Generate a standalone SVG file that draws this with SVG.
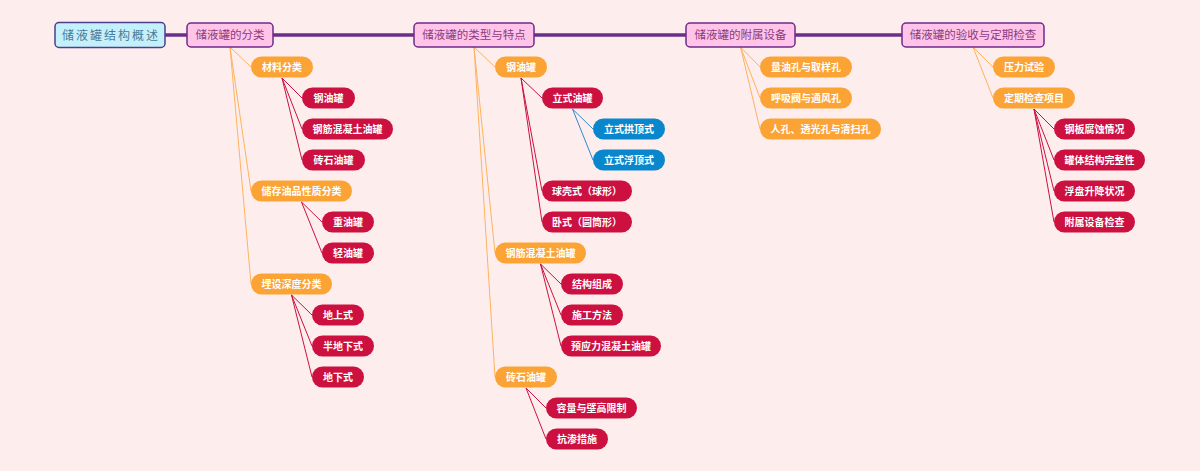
<svg xmlns="http://www.w3.org/2000/svg" width="1200" height="471" viewBox="0 0 1200 471">
<style>
.bg{fill:#fdeeed}
.root rect{fill:#c4f0fc;stroke:#4b3f8c;stroke-width:1.5}
.root text{fill:#4a7a96;font-size:12px;letter-spacing:2px}
.l1 rect{fill:#ffc4e8;stroke:#6e2a8a;stroke-width:1.5}
.l1 text{fill:#8c3a7c;font-size:11.5px}
.o rect{fill:#fba335}
.r rect{fill:#cc1040}
.b rect{fill:#0a86cc}
.o text,.r text,.b text{fill:#ffffff;font-size:10px;font-weight:bold}
text{font-family:"Noto Sans CJK SC","Noto Sans",sans-serif;text-anchor:middle}
.main{stroke:#6c2c8a;stroke-width:3.5;fill:none}
.co{stroke:#ffb25e;stroke-width:1;fill:none}
.cr{stroke:#cc1040;stroke-width:1;fill:none}
.cb{stroke:#2a8ad0;stroke-width:1;fill:none}
</style>
<rect class="bg" x="0" y="0" width="1200" height="471"/>
<g id="connectors">
<line class="main" x1="165" y1="35" x2="902" y2="35"/>
<path class="co" d="M230,47L251,67M230,47L251,191M230,47L251,284"/>
<path class="cr" d="M282,78L302,98M282,78L302,129M282,78L302,160"/>
<path class="cr" d="M301.5,202L322,222M301.5,202L322,253"/>
<path class="cr" d="M291.5,295L312,315M291.5,295L312,346M291.5,295L312,377"/>
<path class="co" d="M474,47L495,67M474,47L495,253M474,47L495,377"/>
<path class="cr" d="M521,78L542,98M521,78L542,191M521,78L542,222"/>
<path class="cb" d="M572.5,109L593,129M572.5,109L593,160"/>
<path class="cr" d="M540.5,264L561,284M540.5,264L561,315M540.5,264L561,346"/>
<path class="cr" d="M526,388L546,408M526,388L546,439"/>
<path class="co" d="M740.5,47L760,67M740.5,47L760,98M740.5,47L760,129"/>
<path class="co" d="M973,47L993,67M973,47L993,98"/>
<path class="cr" d="M1034,109L1054,129M1034,109L1054,160M1034,109L1054,191M1034,109L1054,222"/>
</g>
<g id="n-root" class="root"><rect x="55" y="22.5" width="110" height="25" rx="4"/><text x="111" y="39.5">储液罐结构概述</text></g>
<g id="n-a" class="l1"><rect x="187" y="23" width="86" height="24" rx="4"/><text x="230" y="39">储液罐的分类</text></g>
<g id="n-b" class="l1"><rect x="414" y="23" width="120" height="24" rx="4"/><text x="474" y="39">储液罐的类型与特点</text></g>
<g id="n-c" class="l1"><rect x="686" y="23" width="109" height="24" rx="4"/><text x="740.5" y="39">储液罐的附属设备</text></g>
<g id="n-d" class="l1"><rect x="902" y="23" width="142" height="24" rx="4"/><text x="973" y="39">储液罐的验收与定期检查</text></g>

<g id="n-a1" class="o"><rect x="251" y="56.5" width="62" height="21" rx="10.5"/><text x="282" y="70.5">材料分类</text></g>
<g id="n-a1a" class="r"><rect x="302" y="87.5" width="53" height="21" rx="10.5"/><text x="328.5" y="101.5">钢油罐</text></g>
<g id="n-a1b" class="r"><rect x="302" y="118.5" width="91" height="21" rx="10.5"/><text x="347.5" y="132.5">钢筋混凝土油罐</text></g>
<g id="n-a1c" class="r"><rect x="302" y="149.5" width="63" height="21" rx="10.5"/><text x="333.5" y="163.5">砖石油罐</text></g>
<g id="n-a2" class="o"><rect x="251" y="180.5" width="101" height="21" rx="10.5"/><text x="301.5" y="194.5">储存油品性质分类</text></g>
<g id="n-a2a" class="r"><rect x="322" y="211.5" width="52" height="21" rx="10.5"/><text x="348" y="225.5">重油罐</text></g>
<g id="n-a2b" class="r"><rect x="322" y="242.5" width="52" height="21" rx="10.5"/><text x="348" y="256.5">轻油罐</text></g>
<g id="n-a3" class="o"><rect x="251" y="273.5" width="81" height="21" rx="10.5"/><text x="291.5" y="287.5">埋设深度分类</text></g>
<g id="n-a3a" class="r"><rect x="312" y="304.5" width="52" height="21" rx="10.5"/><text x="338" y="318.5">地上式</text></g>
<g id="n-a3b" class="r"><rect x="312" y="335.5" width="62" height="21" rx="10.5"/><text x="343" y="349.5">半地下式</text></g>
<g id="n-a3c" class="r"><rect x="312" y="366.5" width="52" height="21" rx="10.5"/><text x="338" y="380.5">地下式</text></g>

<g id="n-b1" class="o"><rect x="495" y="56.5" width="52" height="21" rx="10.5"/><text x="521" y="70.5">钢油罐</text></g>
<g id="n-b1a" class="r"><rect x="542" y="87.5" width="61" height="21" rx="10.5"/><text x="572.5" y="101.5">立式油罐</text></g>
<g id="n-b1a1" class="b"><rect x="593" y="118.5" width="72" height="21" rx="10.5"/><text x="629" y="132.5">立式拱顶式</text></g>
<g id="n-b1a2" class="b"><rect x="593" y="149.5" width="72" height="21" rx="10.5"/><text x="629" y="163.5">立式浮顶式</text></g>
<g id="n-b1b" class="r"><rect x="542" y="180.5" width="90" height="21" rx="10.5"/><text x="587" y="194.5">球壳式（球形）</text></g>
<g id="n-b1c" class="r"><rect x="542" y="211.5" width="90" height="21" rx="10.5"/><text x="587" y="225.5">卧式（圆筒形）</text></g>
<g id="n-b2" class="o"><rect x="495" y="242.5" width="91" height="21" rx="10.5"/><text x="540.5" y="256.5">钢筋混凝土油罐</text></g>
<g id="n-b2a" class="r"><rect x="561" y="273.5" width="62" height="21" rx="10.5"/><text x="592" y="287.5">结构组成</text></g>
<g id="n-b2b" class="r"><rect x="561" y="304.5" width="62" height="21" rx="10.5"/><text x="592" y="318.5">施工方法</text></g>
<g id="n-b2c" class="r"><rect x="561" y="335.5" width="100" height="21" rx="10.5"/><text x="611" y="349.5">预应力混凝土油罐</text></g>
<g id="n-b3" class="o"><rect x="495" y="366.5" width="62" height="21" rx="10.5"/><text x="526" y="380.5">砖石油罐</text></g>
<g id="n-b3a" class="r"><rect x="546" y="397.5" width="91" height="21" rx="10.5"/><text x="591.5" y="411.5">容量与壁高限制</text></g>
<g id="n-b3b" class="r"><rect x="546" y="428.5" width="62" height="21" rx="10.5"/><text x="577" y="442.5">抗渗措施</text></g>

<g id="n-c1" class="o"><rect x="760" y="56.5" width="92" height="21" rx="10.5"/><text x="806" y="70.5">量油孔与取样孔</text></g>
<g id="n-c2" class="o"><rect x="760" y="87.5" width="92" height="21" rx="10.5"/><text x="806" y="101.5">呼吸阀与通风孔</text></g>
<g id="n-c3" class="o"><rect x="760" y="118.5" width="121" height="21" rx="10.5"/><text x="820.5" y="132.5">人孔、透光孔与清扫孔</text></g>

<g id="n-d1" class="o"><rect x="993" y="56.5" width="62" height="21" rx="10.5"/><text x="1024" y="70.5">压力试验</text></g>
<g id="n-d2" class="o"><rect x="993" y="87.5" width="82" height="21" rx="10.5"/><text x="1034" y="101.5">定期检查项目</text></g>
<g id="n-d2a" class="r"><rect x="1054" y="118.5" width="81" height="21" rx="10.5"/><text x="1094.5" y="132.5">钢板腐蚀情况</text></g>
<g id="n-d2b" class="r"><rect x="1054" y="149.5" width="91" height="21" rx="10.5"/><text x="1099.5" y="163.5">罐体结构完整性</text></g>
<g id="n-d2c" class="r"><rect x="1054" y="180.5" width="81" height="21" rx="10.5"/><text x="1094.5" y="194.5">浮盘升降状况</text></g>
<g id="n-d2d" class="r"><rect x="1054" y="211.5" width="81" height="21" rx="10.5"/><text x="1094.5" y="225.5">附属设备检查</text></g>
</svg>
